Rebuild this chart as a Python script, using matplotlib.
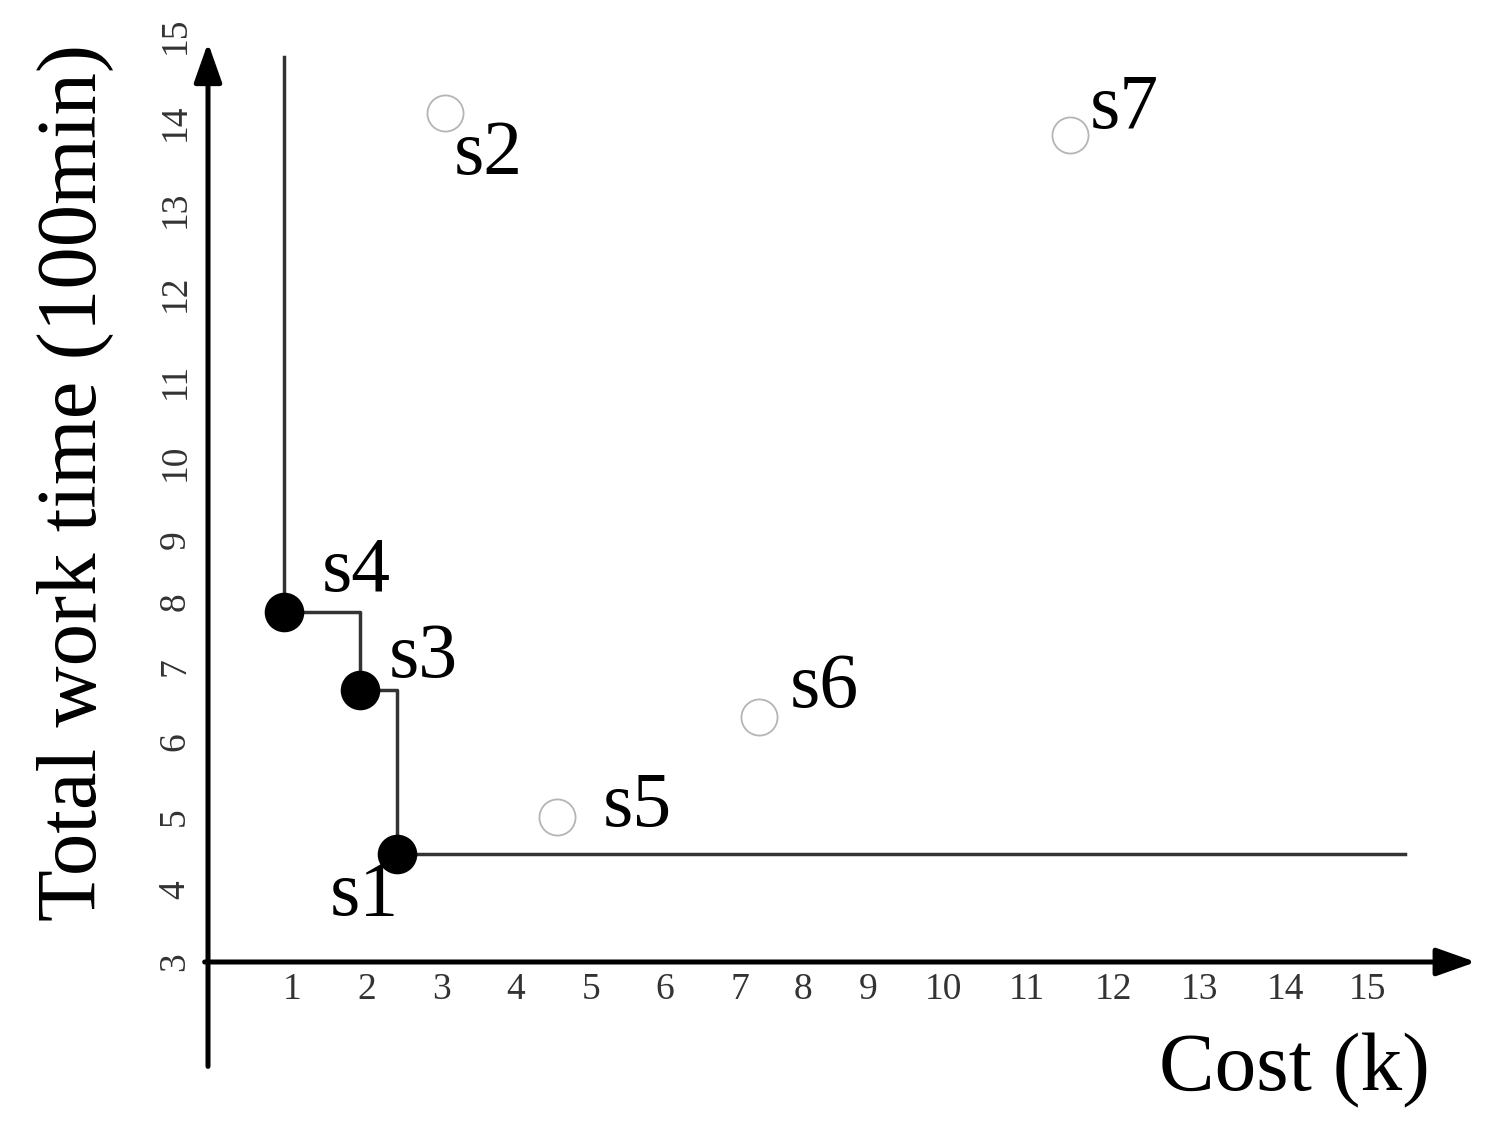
import numpy as np
import matplotlib
matplotlib.use('Agg')
import matplotlib.pyplot as plt

# solutions (cost in k, total work time in 100 min)
names = ['s1', 's2', 's3', 's4', 's5', 's6', 's7']
cost = [2.4, 3.05, 1.9, 0.9, 4.55, 7.3, 11.5]
work = [4.5, 14.1, 6.7, 7.85, 5.0, 6.33, 13.85]
pareto = ['s4', 's3', 's1']          # non-dominated, drawn filled
front_top = 14.75                     # where the front line starts (work time)
front_right = 15.45                   # where the front line ends (cost)

x_ticks = list(range(1, 16))
y_ticks = list(range(3, 16))

# the original axes are hand drawn, ticks are not evenly spaced
x_knots = [0] + x_ticks
x_knot_px = [208, 292, 367, 441, 516, 591, 665, 740, 803, 868, 943, 1027, 1113, 1200, 1285, 1368]
y_knots = y_ticks
y_knot_px = [962, 890, 817, 742, 667, 602, 540, 462, 381, 293, 209, 122, 35]

W, H = 1490, 1127


def make_scale(knots, px):
    knots = list(knots)
    px = list(px)
    s0 = (px[1] - px[0]) / (knots[1] - knots[0])
    s1 = (px[-1] - px[-2]) / (knots[-1] - knots[-2])
    k = np.array([knots[0] - 100] + knots + [knots[-1] + 100], float)
    p = np.array([px[0] - 100 * s0] + px + [px[-1] + 100 * s1], float)
    fwd = lambda v: np.interp(v, k, p)
    inv = lambda q: np.interp(q, p, k)
    return fwd, inv


xf, xi = make_scale(x_knots, x_knot_px)
yf, yi = make_scale(y_knots, [H - v for v in y_knot_px])

plt.rcParams['font.family'] = ['Liberation Serif', 'DejaVu Serif']

fig = plt.figure(figsize=(W / 100, H / 100), dpi=100)
ax = fig.add_axes([0, 0, 1, 1])
ax.set_xscale('function', functions=(xf, xi))
ax.set_yscale('function', functions=(yf, yi))
ax.set_xlim(xi(0), xi(W))
ax.set_ylim(yi(0), yi(H))
ax.axis('off')

# axes with arrows
arrow = dict(arrowstyle='-|>,head_length=24,head_width=8.5', mutation_scale=1,
             lw=3.6, color='black', shrinkA=0, shrinkB=0)
ax.annotate('', xy=(0, 14.91), xytext=(0, 1.55), arrowprops=arrow)
ax.annotate('', xy=(16.3, 3), xytext=(-0.04, 3), arrowprops=arrow)

# tick labels
for t in x_ticks:
    ax.annotate(str(t), (t, 3), xytext=(0, -28), textcoords='offset pixels',
                ha='center', va='center', fontsize=27, color='#333333')
for t in y_ticks:
    ax.annotate(str(t), (0, t), xytext=(-33, 0), textcoords='offset pixels',
                ha='center', va='center', rotation=90, fontsize=27, color='#333333')

# pareto front as a staircase
fx = [cost[names.index(n)] for n in pareto]
fy = [work[names.index(n)] for n in pareto]
ax.plot([fx[0]] + fx + [front_right], [front_top] + fy + [fy[-1]],
        drawstyle='steps-post', color='#333333', lw=2.5, zorder=2)

# points
for n, c, w in zip(names, cost, work):
    if n in pareto:
        ax.plot(c, w, 'o', ms=27.5, color='black', zorder=3)
    else:
        ax.plot(c, w, 'o', ms=26, mfc='white', mec='#b5b5b5', mew=1.3, zorder=3)

label_off = {'s1': (-67, -62), 's2': (9, -61), 's3': (29, 12), 's4': (38, 21),
             's5': (46, -9), 's6': (31, 10), 's7': (20, 7)}
for n, c, w in zip(names, cost, work):
    ax.annotate(n, (c, w), xytext=label_off[n], textcoords='offset pixels',
                ha='left', va='baseline', fontsize=56, color='black', zorder=4)

fig.text(1430 / W, 1 - 1090 / H, 'Cost (k)', ha='right', va='baseline', fontsize=60)
fig.text(75 / W, 1 - 482 / H, 'Total work time (100min)', ha='center', va='center',
         rotation=90, fontsize=61)

fig.savefig('out.png', dpi=100)
